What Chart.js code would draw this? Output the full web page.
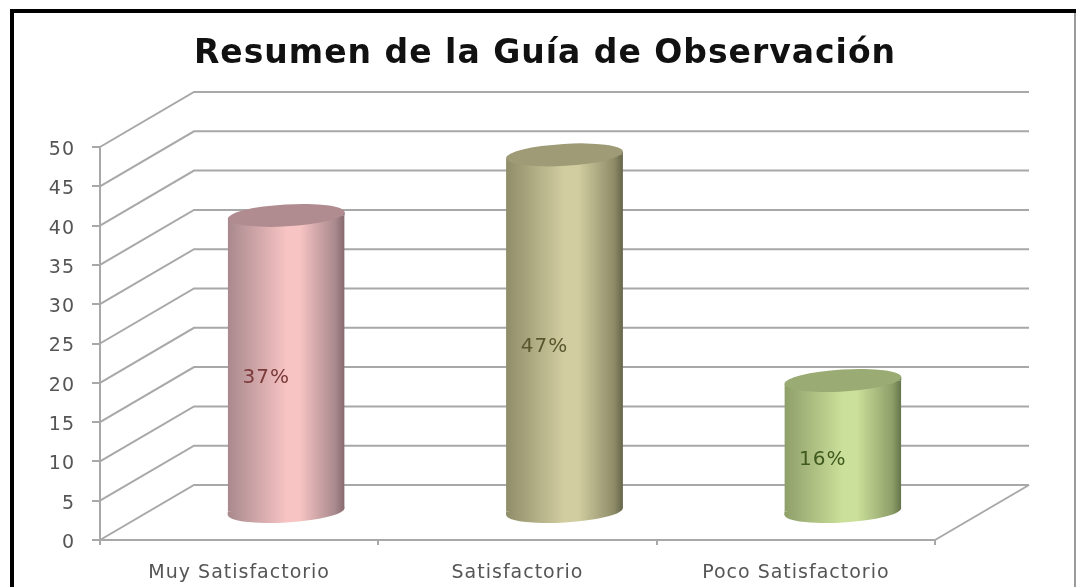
<!DOCTYPE html>
<html>
<head>
<meta charset="utf-8">
<script src="https://cdn.jsdelivr.net/npm/chart.js@4"></script>
<style>
  html, body { margin: 0; padding: 0; background: #fff; }
  #wrap { width: 1076px; height: 587px; }
  canvas { filter: blur(0.6px); }
</style>
</head>
<body>
<div id="wrap"><canvas id="myChart" width="1076" height="587"></canvas></div>
<script>
const categories = ['Muy Satisfactorio', 'Satisfactorio', 'Poco Satisfactorio'];
const values = [37.8, 45.5, 16.8];
const percentLabels = ['37%', '47%', '16%'];
const tickLabels = ['0', '5', '10', '15', '20', '25', '30', '35', '40', '45', '50'];
const chartTitle = 'Resumen de la Guía de Observación';

// cylinder shades: edge left, middle, edge right, top cap, label
const shades = [
  ['#a8898d', '#f7c3c3', '#86696e', '#b08c90', '#7a3a3a'],
  ['#8f8d69', '#d2cda0', '#66654a', '#9e9b76', '#5a5730'],
  ['#8f9f69', '#cbe09a', '#64744a', '#9aab74', '#3f5a1e']
];

// depth of the 3D box, in pixels
const depthX = 94, depthY = 55;
const barShift = { x: depthX / 2, y: depthY / 2 };
const capRy = 11, tilt = -3.4 * Math.PI / 180;
const barShare = 0.42;
const gridColor = '#a8a8a8', textColor = '#555555';

function sideGradient(ctx, x, half, i) {
  const g = ctx.createLinearGradient(x - half, 0, x + half, 0);
  g.addColorStop(0, shades[i][0]);
  g.addColorStop(0.5, shades[i][1]);
  g.addColorStop(0.62, shades[i][1]);
  g.addColorStop(0.92, shades[i][0]);
  g.addColorStop(1, shades[i][2]);
  return g;
}

function capPath(ctx, x, y, half) {
  ctx.beginPath();
  ctx.ellipse(x, y, half, capRy, tilt, 0, Math.PI * 2);
}

const frame3d = {
  id: 'frame3d',
  afterLayout(chart) {
    // title is centred on the box, not the plot
    chart.titleBlock.left = 14;
    chart.titleBlock.right = 1076;
    // DejaVu sits high on a middle baseline
    chart.scales.y.getLabelItems().forEach(item => { item.textOffset += 3; });
  },
  beforeDraw(chart) {
    const ctx = chart.ctx;
    ctx.save();
    ctx.fillStyle = '#fff';
    ctx.fillRect(0, 0, chart.width, chart.height);
    ctx.fillStyle = '#000';
    ctx.fillRect(10, 9, chart.width - 10, 4);
    ctx.fillRect(10, 9, 4, chart.height - 9);
    ctx.fillStyle = '#9a9a9a';
    ctx.fillRect(chart.width - 2, 13, 2, chart.height - 13);
    ctx.restore();
    ctx.letterSpacing = '1px'; // the text in the reference is stretched wide
  },
  beforeDatasetsDraw(chart) {
    const { ctx, scales: { x, y } } = chart;
    ctx.save();
    ctx.strokeStyle = gridColor;
    ctx.lineWidth = 2;
    tickLabels.forEach(t => {
      const py = y.getPixelForValue(Number(t));
      ctx.beginPath();
      ctx.moveTo(x.left, py);
      ctx.lineTo(x.left + depthX, py - depthY);
      ctx.lineTo(x.right + depthX, py - depthY);
      ctx.stroke();
    });
    // floor edge on the right
    ctx.beginPath();
    ctx.moveTo(x.right, y.bottom);
    ctx.lineTo(x.right + depthX, y.bottom - depthY);
    ctx.stroke();
    ctx.restore();
  },
  beforeDatasetDraw(chart, args) {
    const ctx = chart.ctx;
    const skew = Math.sin(-tilt);
    ctx.save();
    ctx.translate(barShift.x, -barShift.y);
    // round bottom plus the small gaps the flat bar ends leave open
    args.meta.data.forEach((bar, i) => {
      const half = bar.width / 2, d = half * skew;
      ctx.fillStyle = sideGradient(ctx, bar.x, half, i);
      capPath(ctx, bar.x, bar.base, half);
      ctx.fill();
      ctx.beginPath();
      ctx.moveTo(bar.x - half, bar.base);
      ctx.lineTo(bar.x - half, bar.base + d);
      ctx.lineTo(bar.x, bar.base);
      ctx.closePath();
      ctx.moveTo(bar.x + half, bar.y);
      ctx.lineTo(bar.x + half, bar.y - d);
      ctx.lineTo(bar.x, bar.y);
      ctx.closePath();
      ctx.fill();
    });
    // the bars themselves get cut to the tilt
    ctx.beginPath();
    args.meta.data.forEach(bar => {
      const half = bar.width / 2, d = half * skew;
      ctx.moveTo(bar.x - half, bar.y + d);
      ctx.lineTo(bar.x + half, bar.y - d);
      ctx.lineTo(bar.x + half, bar.base - d);
      ctx.lineTo(bar.x - half, bar.base + d);
      ctx.closePath();
    });
    ctx.clip();
  },
  afterDatasetDraw(chart, args) {
    const ctx = chart.ctx;
    ctx.restore();
    ctx.save();
    ctx.translate(barShift.x, -barShift.y);
    args.meta.data.forEach((bar, i) => {
      capPath(ctx, bar.x, bar.y, bar.width / 2);
      ctx.fillStyle = shades[i][3];
      ctx.fill();
    });
    ctx.font = '20px "DejaVu Sans"';
    ctx.textAlign = 'center';
    ctx.textBaseline = 'middle';
    args.meta.data.forEach((bar, i) => {
      ctx.fillStyle = shades[i][4];
      ctx.fillText(percentLabels[i], bar.x - 20, (bar.y + bar.base) / 2 + 14);
    });
    ctx.restore();
  }
};

const ctx = document.getElementById('myChart').getContext('2d');

new Chart(ctx, {
  type: 'bar',
  data: {
    labels: categories,
    datasets: [{
      data: values,
      clip: false,
      categoryPercentage: 1,
      barPercentage: barShare,
      backgroundColor(c) {
        const x = c.chart.scales.x;
        const px = x ? x.getPixelForValue(c.dataIndex) : NaN;
        const half = x ? x.width / categories.length * barShare / 2 : NaN;
        // options also get resolved before the scales have a size
        if (!Number.isFinite(px) || !Number.isFinite(half)) return shades[0][1];
        return sideGradient(c.chart.ctx, px, half, c.dataIndex);
      }
    }]
  },
  options: {
    responsive: false,
    animation: false,
    layout: { padding: { right: 141 } },
    plugins: {
      legend: { display: false },
      tooltip: { enabled: false },
      title: {
        display: true,
        text: chartTitle,
        color: '#111',
        font: { family: '"DejaVu Sans"', size: 33, weight: 'bold' },
        padding: { top: 35, bottom: 72.4 }
      }
    },
    scales: {
      x: {
        afterFit(s) { s.height = 47; },
        grid: { drawOnChartArea: false, color: gridColor, lineWidth: 2, tickLength: 5 },
        border: { color: gridColor, width: 2 },
        ticks: { color: textColor, padding: 17, maxRotation: 0, font: { family: '"DejaVu Sans"', size: 19 } }
      },
      y: {
        min: 0,
        max: 50,
        afterFit(s) { s.width = 100; },
        grid: { drawOnChartArea: false, color: gridColor, lineWidth: 2, tickLength: 8 },
        border: { color: gridColor, width: 2 },
        ticks: {
          stepSize: 5,
          color: textColor,
          padding: 17,
          font: { family: '"DejaVu Sans"', size: 19 },
          callback: (v, i) => tickLabels[i]
        }
      }
    }
  },
  plugins: [frame3d]
});
</script>
</body>
</html>
